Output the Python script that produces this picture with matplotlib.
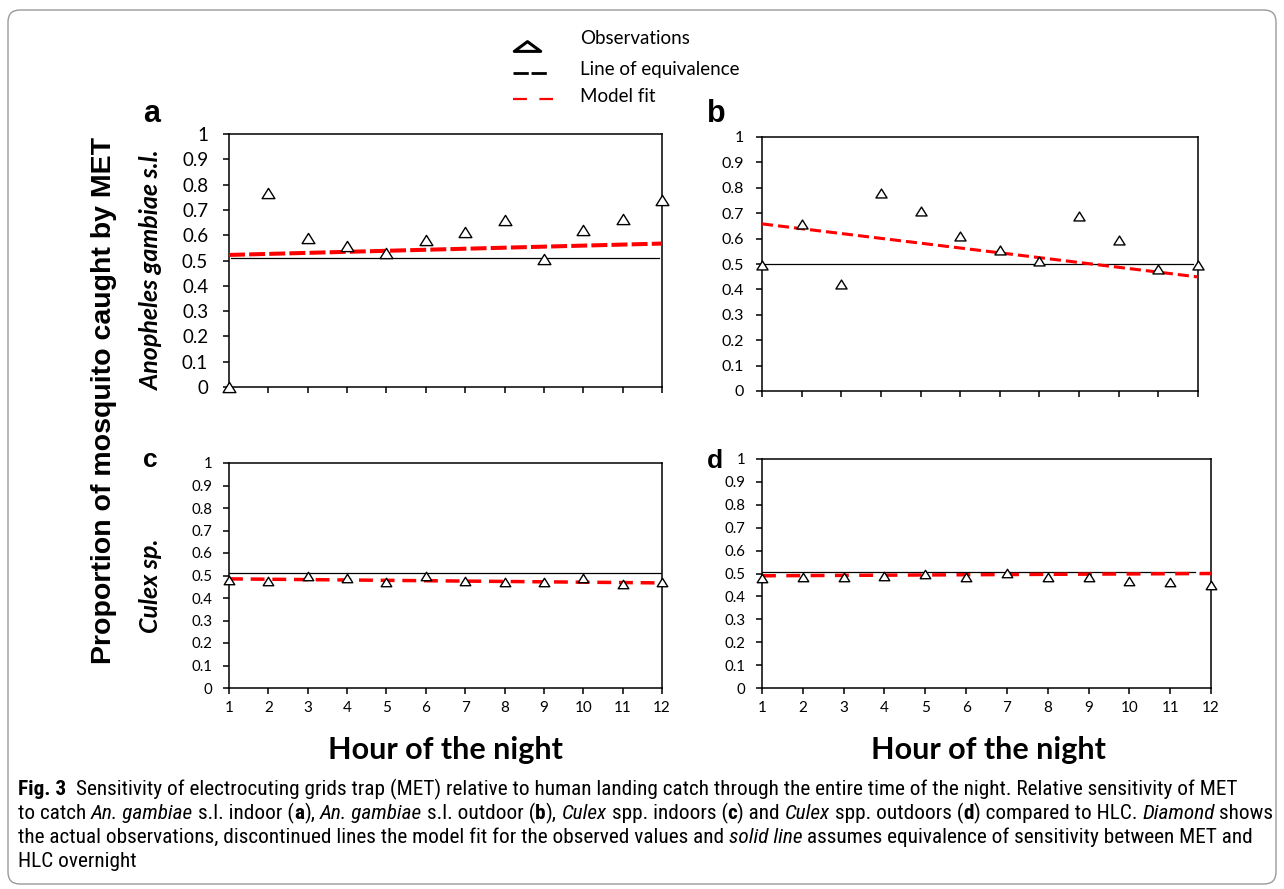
import matplotlib
matplotlib.use('Agg')
import matplotlib.pyplot as plt
from matplotlib import font_manager as fm
from matplotlib.lines import Line2D
from matplotlib.patches import FancyBboxPatch
from matplotlib.transforms import IdentityTransform
from matplotlib.path import Path
from matplotlib.markers import MarkerStyle

# ---------------- data ----------------
hours = [1, 2, 3, 4, 5, 6, 7, 8, 9, 10, 11, 12]
obs_a = [0.0, 0.765, 0.587, 0.558, 0.528, 0.580, 0.613, 0.662, 0.504, 0.620, 0.665, 0.739]
obs_b = [0.497, 0.656, 0.423, 0.780, 0.709, 0.609, 0.554, 0.512, 0.690, 0.596, 0.482, 0.497]
obs_c = [0.482, 0.476, 0.497, 0.490, 0.470, 0.497, 0.476, 0.472, 0.473, 0.487, 0.462, 0.469]
obs_d = [0.480, 0.486, 0.486, 0.489, 0.498, 0.486, 0.502, 0.483, 0.486, 0.469, 0.464, 0.451]

fit_hours = [1, 12]
fit_a = [0.522, 0.567]
fit_b = [0.658, 0.449]
fit_c = [0.485, 0.467]
fit_d = [0.490, 0.500]

equiv_a = [0.508, 0.508]
equiv_b = [0.500, 0.500]
equiv_c = [0.513, 0.513]
equiv_d = [0.505, 0.505]
equiv_hours_a = [1.05, 11.93]
equiv_hours_b = [1.0, 11.87]
equiv_hours_c = [1.0, 11.97]
equiv_hours_d = [1.0, 11.6]

yticks = [0, 0.1, 0.2, 0.3, 0.4, 0.5, 0.6, 0.7, 0.8, 0.9, 1.0]
ytick_labels = ['0', '0.1', '0.2', '0.3', '0.4', '0.5', '0.6', '0.7', '0.8', '0.9', '1']
xtick_labels = [str(h) for h in hours]

panel_letters = ['a', 'b', 'c', 'd']
row_labels = ['Anopheles gambiae s.l.', 'Culex sp.']
ylabel_text = 'Proportion of mosquito caught by MET'
xlabel_text = 'Hour of the night'
legend_labels = ['Observations', 'Line of equivalence', 'Model fit']

caption_lines = [
    [("Fig. 3", "b"), ("  Sensitivity of electrocuting grids trap (MET) relative to human landing catch through the entire time of the night. Relative sensitivity of MET", "")],
    [("to catch ", ""), ("An. gambiae", "i"), (" s.l. indoor (", ""), ("a", "b"), ("), ", ""),
     ("An. gambiae", "i"), (" s.l. outdoor (", ""), ("b", "b"), ("), ", ""), ("Culex", "i"),
     (" spp. indoors (", ""), ("c", "b"), (") and ", ""), ("Culex", "i"), (" spp. outdoors (", ""),
     ("d", "b"), (") compared to HLC. ", ""), ("Diamond", "i"), (" shows", "")],
    [("the actual observations, discontinued lines the model fit for the observed values and ", ""),
     ("solid line", "i"), (" assumes equivalence of sensitivity between MET and", "")],
    [("HLC overnight", "")],
]

# ---------------- setup ----------------
W, H = 1284, 889
plt.rcParams['font.family'] = ['Lato', 'DejaVu Sans']
plt.rcParams['lines.scale_dashes'] = False
fig = plt.figure(figsize=(W / 100, H / 100), dpi=100)

def px_axes(l, t, r, b):
    return fig.add_axes([l / W, 1 - b / H, (r - l) / W, (b - t) / H])

tri_path = Path([(-1, -0.8), (1, -0.8), (0, 0.8), (-1, -0.8)], closed=True)
tri_marker = MarkerStyle(tri_path)

panels = [
    dict(box=(229, 134, 662, 387), obs=obs_a, fit=fit_a, eq=equiv_a, eqh=equiv_hours_a,
         ylab=13.5, ypad=10.5, xlab=False, ms=9.2, lw=2.9, dash=(11.5, 3.0)),
    dict(box=(762, 137, 1198, 391), obs=obs_b, fit=fit_b, eq=equiv_b, eqh=equiv_hours_b,
         ylab=11.5, ypad=8.6, xlab=False, ms=8, lw=2.2, dash=(8, 3.6)),
    dict(box=(229, 463, 662, 688), obs=obs_c, fit=fit_c, eq=equiv_c, eqh=equiv_hours_c,
         ylab=10.8, ypad=7.5, xlab=True, ms=7.6, lw=2.5, dash=(10, 5.6)),
    dict(box=(762, 459, 1211, 688), obs=obs_d, fit=fit_d, eq=equiv_d, eqh=equiv_hours_d,
         ylab=10.8, ypad=7.5, xlab=True, ms=7.6, lw=2.5, dash=(10, 7.5)),
]

for p in panels:
    ax = px_axes(*p['box'])
    ax.set_xlim(1, 12)
    ax.set_ylim(0, 1)
    ax.plot(p['eqh'], p['eq'], color='black', lw=0.9, zorder=2)
    ax.plot(fit_hours, p['fit'], color='#ff0000', lw=p['lw'], dashes=p['dash'],
            solid_capstyle='butt', dash_capstyle='butt', zorder=3, clip_on=False)
    ax.plot(hours, p['obs'], linestyle='none', marker=tri_marker, ms=p['ms'],
            mfc='white', mec='black', mew=1.0, zorder=4, clip_on=False)
    ax.set_yticks(yticks)
    ax.set_yticklabels(ytick_labels)
    ax.set_xticks(hours)
    ax.set_xticklabels(xtick_labels)
    for s in ax.spines.values():
        s.set_linewidth(1.1)
        s.set_color('black')
    ax.tick_params(axis='y', direction='out', length=4.5, width=1.1, pad=p['ypad'],
                   labelsize=p['ylab'], colors='black')
    ax.tick_params(axis='x', direction='out', length=4.0, width=1.1, pad=5,
                   labelsize=11, labelbottom=p['xlab'])
    ax.set_facecolor('none')

# panel letters
letter_pos = [(143, 122, 22), (707, 122, 22), (143, 467, 19), (707, 468, 19)]
for L, (x, y, s) in zip(panel_letters, letter_pos):
    fig.text(x / W, 1 - y / H, L, fontsize=s, fontweight='bold', family='Liberation Sans',
             ha='left', va='baseline')

# y labels
fig.text(104 / W, 1 - 400 / H, ylabel_text, rotation=90, fontsize=20.5, fontweight='bold',
         family='Liberation Sans', ha='center', va='center')
fig.text(151 / W, 1 - 270 / H, row_labels[0], rotation=90, fontsize=18, fontweight='bold',
         fontstyle='italic', ha='center', va='center')
fig.text(151 / W, 1 - 586 / H, row_labels[1], rotation=90, fontsize=18, fontweight='bold',
         fontstyle='italic', ha='center', va='center')

# x labels
for cx in (445, 988):
    fig.text(cx / W, 1 - 750 / H, xlabel_text, fontsize=22, fontweight='bold',
             ha='center', va='center')

# legend (drawn by hand at the top centre)
idt = IdentityTransform()
leg_tri = MarkerStyle(Path([(-1, -0.37), (1, -0.37), (0, 0.37), (-1, -0.37)], closed=True))
fig.add_artist(Line2D([527], [H - 46], transform=idt, marker=leg_tri, ms=19, mfc='white',
                      mec='black', mew=2.2, linestyle='none'))
fig.add_artist(Line2D([513, 547], [H - 73, H - 73], transform=idt, color='black', lw=2.0,
                      dashes=(11, 2)))
fig.add_artist(Line2D([513, 553], [H - 99, H - 99], transform=idt, color='#ff0000', lw=1.6,
                      dashes=(10, 9)))
for lab, y in zip(legend_labels, (38, 70, 96)):
    fig.text(580 / W, 1 - y / H, lab, fontsize=13.5, ha='left', va='center')

# border
fig.add_artist(FancyBboxPatch((8, H - 884), 1268, 874, boxstyle='round,pad=0,rounding_size=12',
                              transform=idt, fill=False, edgecolor='#9a9a9a', lw=1.0))

# caption
cap_family = None
names = {f.name for f in fm.fontManager.ttflist}
for cand in ['Liberation Sans Narrow', 'Roboto Condensed', 'DejaVu Sans Condensed',
             'Open Sans Condensed', 'Noto Sans Condensed']:
    if cand in names:
        cap_family = cand
        break
if cap_family is None:
    cap_family = 'Liberation Sans'

fig.canvas.draw()
renderer = fig.canvas.get_renderer()

def width_of(s, size, weight, style):
    t = fig.text(0, 0, s, fontsize=size, fontweight=weight, fontstyle=style, family=cap_family)
    w = t.get_window_extent(renderer).width
    t.remove()
    return w

def draw_line(segs, x0, y, size, draw=True):
    x = x0
    spw_cache = {}
    for s, st in segs:
        weight = 'bold' if 'b' in st else 'normal'
        style = 'italic' if 'i' in st else 'normal'
        key = (weight, style)
        if key not in spw_cache:
            spw_cache[key] = width_of('x x', size, weight, style) - width_of('xx', size, weight, style)
        spw = spw_cache[key]
        core = s.strip(' ')
        lead = len(s) - len(s.lstrip(' '))
        trail = len(s) - len(s.rstrip(' '))
        w = width_of(core, size, weight, style) if core else 0
        if draw and core:
            fig.text((x + lead * spw) / W, 1 - y / H, core, fontsize=size, fontweight=weight,
                     fontstyle=style, family=cap_family, ha='left', va='baseline')
        x += w + (lead + trail) * spw
    return x - x0

targets = [1244, 1250, 1242]
scales = [t / draw_line(caption_lines[i], 18, 0, 10, draw=False) for i, t in enumerate(targets)]
cap_size = 10 * min(scales)
for segs, y in zip(caption_lines, (795, 819, 843, 867)):
    draw_line(segs, 18, y, cap_size)

fig.savefig('out.png', dpi=100)
